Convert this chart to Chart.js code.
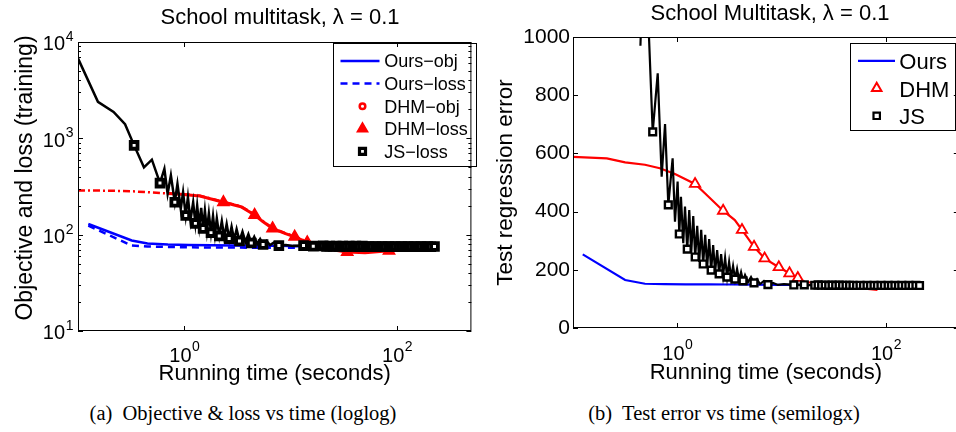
<!DOCTYPE html>
<html lang="en">
<head>
<meta charset="UTF-8">
<title>School multitask</title>
<script src="https://cdn.jsdelivr.net/npm/chart.js"></script>
<style>
    html, body { margin: 0; padding: 0; background: #fff; }
    body { width: 956px; height: 432px; overflow: hidden; position: relative; font-family: "Liberation Sans", Arial, sans-serif; color: #000; }
    .panel { position: absolute; top: 0; height: 395px; }
    #panelA { left: 0; width: 480px; }
    #panelB { left: 480px; width: 486px; }
    .title { position: absolute; font-size: 22px; line-height: 22px; white-space: nowrap; transform: translateX(-50%); }
    .caption { position: absolute; font-family: "Liberation Serif", "Times New Roman", serif; font-size: 20.5px; line-height: 20.5px; white-space: pre; transform: translateX(-50%); }
</style>
</head>
<body>
<div class="panel" id="panelA"><canvas id="chartA"></canvas></div>
<div class="panel" id="panelB"><canvas id="chartB"></canvas></div>
<div class="title" style="left:280px; top:6px">School multitask, λ = 0.1</div>
<div class="title" style="left:770px; top:2px">School Multitask, λ = 0.1</div>
<div class="caption" style="left:243px; top:403px">(a)  Objective &amp; loss vs time (loglog)</div>
<div class="caption" style="left:724px; top:403px">(b)  Test error vs time (semilogx)</div>

<script>
    // running time axis (seconds), both panels
    const timeTicks = [1, 100]
    const timeTickLabels = ['10^0', '10^2']

    // ---------- (a) training objective and loss, loglog ----------
    const lossTicks = [10, 100, 1000, 10000]
    const lossTickLabels = ['10^1', '10^2', '10^3', '10^4']

    const oursTimeA = [0.125, 0.32, 0.45, 0.7, 1.1, 1.8, 3, 5, 8, 12]
    const oursObjA = [129, 87, 81, 79, 78, 77.5, 77, 76.5, 76.5, 76]
    const oursLossA = [124, 77, 75.5, 74.5, 74, 73.5, 73.5, 73, 73, 73]

    const dhmObjTimeA = [0.1, 0.15, 0.22, 0.32, 0.45, 0.62, 0.86, 1.4, 2.33, 3.4, 4.58, 5.5, 6.75, 8.8, 10.9, 12.5, 14.3, 22, 34, 50, 84]
    const dhmObjA = [288, 287, 285, 282, 276, 270, 266, 254, 219, 197, 162, 138, 117, 104, 96, 90, 84, 72, 67, 66, 69]

    const dhmLossTimeA = [0.7, 0.86, 1.4, 2.33, 3.4, 4.58, 5.5, 6.75, 8.8, 10.9, 12.5, 14.3, 22, 34, 50, 84]
    const dhmLossA = [268, 265, 252, 217, 195, 160, 136, 116, 103, 95, 89, 83, 71, 66, 65, 68]

    const jsTimeA = [0.1, 0.154, 0.216, 0.277, 0.337, 0.417, 0.495, 0.59, 0.649, 0.696,
        0.747, 0.813, 0.861, 0.925, 0.973, 1.03, 1.08, 1.14, 1.21, 1.27,
        1.32, 1.38, 1.44, 1.50, 1.56, 1.63, 1.70, 1.78, 1.86, 1.94,
        2.02, 2.13, 2.25, 2.37, 2.50, 2.64, 2.78, 2.94, 3.10, 3.30,
        3.52, 3.75, 4.00, 4.26, 4.54, 4.84, 5.16, 5.50, 5.93, 6.39,
        6.96, 7.74, 9.0, 10.5,
        13.2, 14.2, 15.2, 16.3, 17.5, 18.8, 20.2, 21.7, 23.3, 25,
        26.8, 28.8, 30.9, 33.2, 35.6, 38.2, 41, 44, 47.2, 50.7,
        54.4, 58.4, 62.7, 67.3, 72.2, 77.5, 83.2, 89.3, 95.8, 103,
        110, 118, 127, 136, 146, 157, 168, 181, 194, 208,
        225]
    const jsLossA = [6760, 2390, 1880, 1400, 845, 500, 600, 343, 483, 266,
        412, 217, 337, 185, 276, 158, 245, 140, 217, 131,
        200, 123, 190, 116, 178, 110, 166, 105, 156, 101,
        147, 97, 138, 94, 129, 91, 121, 88, 114, 86,
        107, 84, 101, 82, 95, 80, 90, 79, 86, 78,
        83, 77, 78, 76.5,
        77, 76, 76.5, 76, 76.5, 75.5, 76.5, 75.5, 76, 75.5,
        76, 75.5, 76, 75.5, 76, 75.5, 76, 75, 76, 75,
        75.5, 75, 75.5, 75, 75.5, 75, 75.5, 75, 75.5, 75,
        75.5, 75, 75.5, 75, 75.5, 75, 75.5, 75, 75.5, 75,
        75.5]

    // ---------- (b) test regression error, semilogx ----------
    const errTicks = [0, 200, 400, 600, 800, 1000]

    const oursTimeB = [0.124, 0.316, 0.49, 0.75, 1.2, 2, 3.3, 5.5, 9.2, 15]
    const oursErrB = [253, 165, 152, 151, 150, 150, 149.5, 149, 148.5, 148]

    const dhmTimeB = [0.1, 0.211, 0.316, 0.49, 0.68, 0.95, 1.48, 1.84, 2.75, 3.56,
        4.17, 5.44, 6.87, 9.4, 11.9, 14.3, 16.6, 27.8, 45.9, 83]
    const dhmErrB = [588, 583, 569, 561, 549, 529, 495, 463, 403, 371,
        337, 279, 239, 209, 188, 172, 159, 148, 140, 131]

    const jsTimeB = [0.443, 0.484, 0.581, 0.649, 0.708, 0.763, 0.820, 0.902, 0.950, 1.007,
        1.045, 1.084, 1.141, 1.185, 1.246, 1.302, 1.360, 1.422, 1.485, 1.552,
        1.622, 1.695, 1.771, 1.851, 1.934, 2.021, 2.112, 2.207, 2.306, 2.410,
        2.518, 2.632, 2.750, 2.873, 3.003, 3.138, 3.279, 3.426, 3.581, 3.742,
        3.910, 4.086, 4.270, 4.462, 4.766, 5.091, 5.438, 5.808, 6.204, 6.776,
        7.399, 8.26, 9.22, 10.52,
        13.1, 14.1, 15.3, 16.5, 17.8, 19.2, 20.8, 22.4, 24.2, 26.2,
        28.3, 30.5, 33, 35.6, 38.4, 41.5, 44.8, 48.4, 52.3, 56.5,
        61, 65.9, 71.2, 76.9, 83, 89.7, 96.8, 105, 113, 122,
        132, 142, 154, 166, 179, 194, 210]
    const jsErrB = [970, 1400, 674, 875, 520, 701, 423, 583, 365, 503,
        323, 451, 291, 417, 271, 405, 258, 385, 244, 351,
        227, 337, 220, 320, 210, 306, 199, 285, 192, 268,
        186, 254, 182, 241, 175, 227, 172, 213, 168, 203,
        165, 192, 162, 182, 158, 175, 155, 168, 151, 162,
        149, 155, 148, 151,
        148, 149, 147.5, 148.5, 147, 148, 147, 148, 147, 147.5,
        146.5, 147.5, 146.5, 147.5, 146.5, 147, 146.5, 147, 146, 147,
        146, 146.5, 146, 146.5, 146, 146.5, 146, 146.5, 146, 146.5,
        146, 146.5, 146, 146.5, 146, 146.5, 146]

    // which samples carry a marker
    const markJsA = i => i === 4 || (i >= 7 && i <= 51 && (i - 7) % 4 === 0) || (i >= 54 && (i >= 60 || i % 3 === 0))
    const markDhmA = i => i >= 3 && i % 2 === 1
    const markJsB = i => (i >= 2 && i <= 52 && i % 4 === 2) || (i >= 54 && (i >= 60 || i % 3 === 0))
    const markDhmB = i => [6, 8, 10, 11, 12, 13, 14, 15].includes(i)

    const BLUE = '#0000ff'
    const RED = '#ff0000'
    const BLACK = '#000000'
    const SANS = '"Liberation Sans", Arial, sans-serif'

    function pts(xs, ys) {
        return xs.map((x, i) => ({ x: x, y: ys[i] }))
    }

    function drawMark(ctx, m, x, y, color) {
        ctx.save()
        ctx.strokeStyle = color
        ctx.fillStyle = m.fill || 'rgba(0,0,0,0)'
        ctx.lineWidth = m.lw
        ctx.beginPath()
        if (m.style === 'circle') {
            ctx.arc(x, y, m.r, 0, Math.PI * 2)
        } else if (m.style === 'triangle') {
            ctx.moveTo(x, y - m.r)
            ctx.lineTo(x + m.r * 0.866, y + m.r * 0.5)
            ctx.lineTo(x - m.r * 0.866, y + m.r * 0.5)
            ctx.closePath()
        } else {
            ctx.rect(x - m.r, y - m.r, m.r * 2, m.r * 2)
        }
        ctx.fill()
        ctx.stroke()
        ctx.restore()
    }

    function drawKey(ctx, k, datasets) {
        ctx.save()
        ctx.fillStyle = '#fff'
        ctx.fillRect(k.x, k.y, k.w, k.h)
        ctx.strokeStyle = '#000'
        ctx.lineWidth = 1
        ctx.strokeRect(k.x + 0.5, k.y + 0.5, k.w, k.h)
        ctx.font = k.font
        ctx.textAlign = 'left'
        ctx.textBaseline = 'alphabetic'
        datasets.forEach((ds, i) => {
            const base = k.baseline + i * k.step
            const cy = base - k.mid
            if (ds.key.line) {
                ctx.beginPath()
                ctx.setLineDash(ds.borderDash || [])
                ctx.strokeStyle = ds.borderColor
                ctx.lineWidth = ds.borderWidth
                ctx.moveTo(k.lineX1, cy)
                ctx.lineTo(k.lineX2, cy)
                ctx.stroke()
                ctx.setLineDash([])
            }
            if (ds.key.mark) drawMark(ctx, ds.key.mark, k.markX, cy, ds.borderColor)
            ctx.fillStyle = '#000'
            ctx.fillText(ds.label, k.textX, base)
        })
        ctx.restore()
    }

    // MATLAB style box: inward ticks on all sides, 10^n labels, rotated y label, key
    const frame = {
        id: 'frame',
        afterDatasetsDraw(chart, args, o) {
            const ctx = chart.ctx
            const a = chart.chartArea
            const xs = chart.scales.x
            const ys = chart.scales.y

            drawKey(ctx, o.key, chart.data.datasets)

            ctx.save()
            ctx.strokeStyle = '#000'
            ctx.lineWidth = 1
            ctx.strokeRect(a.left + 0.5, a.top + 0.5, a.right - a.left - 1, a.bottom - a.top - 1)

            ctx.beginPath()
            o.xTicks.forEach(v => {
                const p = Math.round(xs.getPixelForValue(v)) + 0.5
                ctx.moveTo(p, a.bottom); ctx.lineTo(p, a.bottom - 5)
                ctx.moveTo(p, a.top); ctx.lineTo(p, a.top + 5)
            })
            o.yTicks.forEach(v => {
                const p = Math.round(ys.getPixelForValue(v)) + 0.5
                ctx.moveTo(a.left, p); ctx.lineTo(a.left + 5, p)
                ctx.moveTo(a.right, p); ctx.lineTo(a.right - 5, p)
            })
            if (o.yMinor) {
                for (let k = 0; k < o.yTicks.length - 1; k++) {
                    for (let d = 2; d <= 9; d++) {
                        const p = Math.round(ys.getPixelForValue(o.yTicks[k] * d)) + 0.5
                        ctx.moveTo(a.left, p); ctx.lineTo(a.left + 3, p)
                        ctx.moveTo(a.right, p); ctx.lineTo(a.right - 3, p)
                    }
                }
            }
            ctx.stroke()

            const big = '20px ' + SANS
            const small = '14px ' + SANS
            ctx.fillStyle = '#000'
            ctx.textBaseline = 'alphabetic'
            ctx.textAlign = 'left'

            o.xLabels.forEach((lab, i) => {
                const parts = lab.split('^')
                const px = xs.getPixelForValue(o.xTicks[i])
                ctx.font = big
                const wb = ctx.measureText(parts[0]).width
                ctx.font = small
                const we = ctx.measureText(parts[1]).width
                const x0 = px - (wb + we) / 2
                const yb = a.bottom + o.xLabelDy
                ctx.font = big
                ctx.fillText(parts[0], x0, yb)
                ctx.font = small
                ctx.fillText(parts[1], x0 + wb + 0.5, yb - 11)
            })

            if (o.yLabels) {
                o.yLabels.forEach((lab, i) => {
                    const parts = lab.split('^')
                    const py = ys.getPixelForValue(o.yTicks[i])
                    const xr = a.left - 13
                    ctx.font = big
                    ctx.textAlign = 'right'
                    ctx.fillText(parts[0], xr, py + 8.4)
                    ctx.font = small
                    ctx.textAlign = 'left'
                    ctx.fillText(parts[1], xr + 0.7, py - 1)
                })
            }

            const t = o.yTitle
            ctx.translate(t.x, t.y)
            ctx.rotate(-Math.PI / 2)
            ctx.font = t.font
            ctx.textAlign = 'center'
            ctx.fillText(t.text, 0, 0)
            ctx.restore()
        }
    }

    function timeAxis(axisHeight, titlePad) {
        return {
            type: 'logarithmic',
            min: 0.1,
            max: 500,
            afterBuildTicks: function (scale) {
                scale.ticks = timeTicks.map(v => ({ value: v }))
            },
            afterFit: function (scale) {
                scale.height = axisHeight
            },
            ticks: { display: false },
            grid: { display: false, drawTicks: false },
            border: { display: false },
            title: {
                display: true,
                text: 'Running time (seconds)',
                color: '#000',
                font: { family: SANS, size: 22 },
                padding: { top: 0, bottom: titlePad }
            }
        }
    }

    // (a) Objective & loss vs time
    new Chart(document.getElementById('chartA'), {
        type: 'line',
        data: {
            datasets: [
                {
                    label: 'Ours\u2212obj',
                    data: pts(oursTimeA, oursObjA),
                    borderColor: BLUE, borderWidth: 2.5, pointRadius: 0,
                    order: 2, key: { line: true }
                },
                {
                    label: 'Ours\u2212loss',
                    data: pts(oursTimeA, oursLossA),
                    borderColor: BLUE, borderWidth: 2.5, borderDash: [7, 5], pointRadius: 0,
                    order: 2, key: { line: true }
                },
                {
                    label: 'DHM\u2212obj',
                    data: pts(dhmObjTimeA, dhmObjA),
                    borderColor: RED, borderWidth: 2.5, borderDash: [7, 3, 2, 3], pointRadius: 0,
                    order: 3, key: { mark: { style: 'circle', r: 2.8, lw: 2.5 } }
                },
                {
                    label: 'DHM\u2212loss',
                    data: pts(dhmLossTimeA, dhmLossA),
                    borderColor: RED, borderWidth: 3, pointStyle: 'triangle',
                    pointRadius: c => markDhmA(c.dataIndex) ? 6.5 : 0,
                    pointBackgroundColor: RED, pointBorderColor: RED, pointBorderWidth: 1.5,
                    order: 3, key: { mark: { style: 'triangle', r: 6, lw: 1.5, fill: RED } }
                },
                {
                    label: 'JS\u2212loss',
                    data: pts(jsTimeA, jsLossA),
                    borderColor: BLACK, borderWidth: 2.5, pointStyle: 'rect',
                    pointRadius: c => markJsA(c.dataIndex) ? 4.8 : 0,
                    pointBackgroundColor: '#fff', pointBorderColor: BLACK, pointBorderWidth: 3.8,
                    order: 1, key: { mark: { style: 'rect', r: 3, lw: 3.2, fill: '#fff' } }
                }
            ]
        },
        options: {
            responsive: true,
            maintainAspectRatio: false,
            devicePixelRatio: 1,
            animation: false,
            events: [],
            layout: { padding: { top: 42, right: 3, left: 0, bottom: 0 } },
            elements: { line: { tension: 0 } },
            plugins: {
                legend: { display: false },
                tooltip: { enabled: false },
                frame: {
                    xTicks: timeTicks,
                    xLabels: timeTickLabels,
                    xLabelDy: 30.5,
                    yTicks: lossTicks,
                    yLabels: lossTickLabels,
                    yMinor: true,
                    yTitle: { text: 'Objective and loss (training)', x: 32, y: 178, font: '23px ' + SANS },
                    key: {
                        x: 333, y: 43, w: 143, h: 123,
                        font: '18px ' + SANS,
                        baseline: 67.3, step: 22.6, mid: 6.3,
                        lineX1: 340.5, lineX2: 379.5, markX: 362.5, textX: 384.3
                    }
                }
            },
            scales: {
                x: timeAxis(64, 8.2),
                y: {
                    type: 'logarithmic',
                    min: 10,
                    max: 10000,
                    afterBuildTicks: function (scale) {
                        scale.ticks = lossTicks.map(v => ({ value: v }))
                    },
                    afterFit: function (scale) {
                        scale.width = 78
                    },
                    ticks: { display: false },
                    grid: { display: false, drawTicks: false },
                    border: { display: false }
                }
            }
        },
        plugins: [frame]
    })

    // (b) Test error vs time
    new Chart(document.getElementById('chartB'), {
        type: 'line',
        data: {
            datasets: [
                {
                    label: 'Ours',
                    data: pts(oursTimeB, oursErrB),
                    borderColor: BLUE, borderWidth: 2.2, pointRadius: 0,
                    order: 2, key: { line: true }
                },
                {
                    label: 'DHM',
                    data: pts(dhmTimeB, dhmErrB),
                    borderColor: RED, borderWidth: 2.2, pointStyle: 'triangle',
                    pointRadius: c => markDhmB(c.dataIndex) ? 6 : 0,
                    pointBackgroundColor: '#fff', pointBorderColor: RED, pointBorderWidth: 1.8,
                    order: 3, key: { mark: { style: 'triangle', r: 5.5, lw: 2, fill: '#fff' } }
                },
                {
                    label: 'JS',
                    data: pts(jsTimeB, jsErrB),
                    borderColor: BLACK, borderWidth: 2.2, pointStyle: 'rect',
                    pointRadius: c => markJsB(c.dataIndex) ? 4.8 : 0,
                    pointBackgroundColor: '#fff', pointBorderColor: BLACK, pointBorderWidth: 2.4,
                    order: 1, key: { mark: { style: 'rect', r: 3.2, lw: 2.2, fill: '#fff' } }
                }
            ]
        },
        options: {
            responsive: true,
            maintainAspectRatio: false,
            devicePixelRatio: 1,
            animation: false,
            events: [],
            layout: { padding: { top: 37, right: 6, left: 0, bottom: 0 } },
            elements: { line: { tension: 0 } },
            plugins: {
                legend: { display: false },
                tooltip: { enabled: false },
                frame: {
                    xTicks: timeTicks,
                    xLabels: timeTickLabels,
                    xLabelDy: 32,
                    yTicks: errTicks,
                    yMinor: false,
                    yTitle: { text: 'Test regression error', x: 31.7, y: 182.5, font: '22.5px ' + SANS },
                    key: {
                        x: 370, y: 43, w: 105, h: 87,
                        font: '22px ' + SANS,
                        baseline: 69.3, step: 27.5, mid: 8.5,
                        lineX1: 378, lineX2: 415, markX: 396.7, textX: 419.3
                    }
                }
            },
            scales: {
                x: timeAxis(67, 9.2),
                y: {
                    type: 'linear',
                    min: 0,
                    max: 1000,
                    afterBuildTicks: function (scale) {
                        scale.ticks = errTicks.map(v => ({ value: v }))
                    },
                    afterFit: function (scale) {
                        scale.width = 93
                    },
                    ticks: {
                        padding: 3,
                        color: '#000',
                        font: { family: SANS, size: 21 },
                        callback: v => String(v)
                    },
                    grid: { display: false, drawTicks: false },
                    border: { display: false }
                }
            }
        },
        plugins: [frame]
    })
</script>
</body>
</html>
